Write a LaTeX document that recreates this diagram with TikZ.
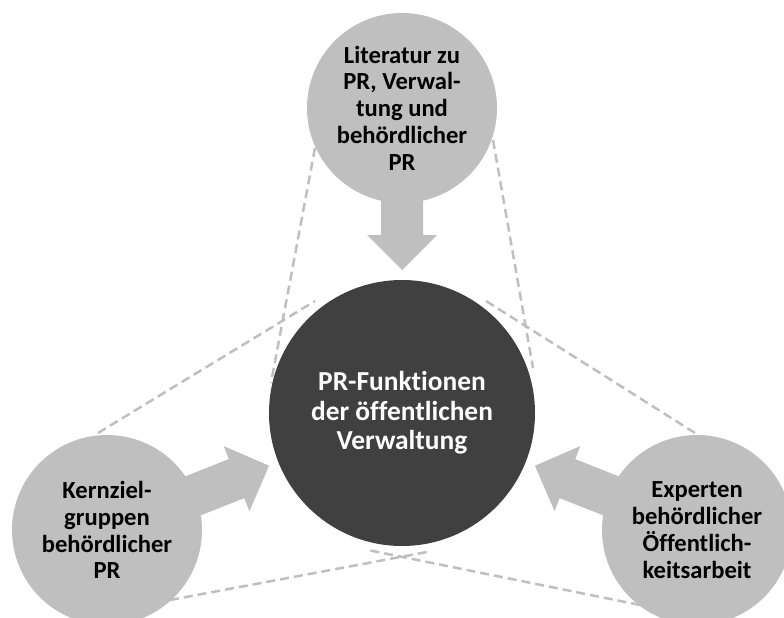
\documentclass[tikz,border=0pt]{standalone}
\usepackage{fontspec}
\setmainfont{Carlito}[Ligatures=NoCommon]
\usetikzlibrary{calc}
\definecolor{lightc}{HTML}{BFBFBF}
\definecolor{darkc}{HTML}{404040}
\tikzset{
  outer/.style={circle, fill=lightc, minimum size=190pt, inner sep=0pt, align=center,
    font=\bfseries\fontsize{24.6}{26.8}\selectfont, text=black},
  center/.style={circle, fill=darkc, minimum size=266pt, inner sep=0pt, align=center,
    font=\bfseries\fontsize{27.4}{29.5}\selectfont, text=white},
  guide/.style={draw=lightc, line width=2.5pt, dash pattern=on 9pt off 5pt},
  bigarrow/.style={fill=lightc, draw=none}
}
\newcommand{\fatarrow}[2]{%
  \coordinate (S) at ($(#1)!60pt!(#2)$);
  \coordinate (H) at ($(#2)!178pt!(#1)$);
  \coordinate (T) at ($(#2)!143pt!(#1)$);
  \fill[bigarrow] ($(S)!21pt!90:(#2)$) -- ($(H)!21pt!-90:(#1)$) -- ($(H)!35pt!-90:(#1)$) -- (T)
    -- ($(H)!35pt!90:(#1)$) -- ($(H)!21pt!90:(#1)$) -- ($(S)!21pt!-90:(#2)$) -- cycle;
}
\begin{document}
\begin{tikzpicture}[x=1pt, y=-1pt]
\useasboundingbox (0,0) rectangle (784,618);
\clip (0,0) rectangle (784,618);
% guide line end points
\coordinate (a1) at (315,148); \coordinate (a2) at (271,383);
\coordinate (b1) at (493,140); \coordinate (b2) at (533,368);
\coordinate (c1) at (98,433);  \coordinate (c2) at (315,301);
\coordinate (d1) at (695,433); \coordinate (d2) at (486,301);
\coordinate (e1) at (170,600); \coordinate (e2) at (427,552);
\coordinate (f1) at (640,605); \coordinate (f2) at (368,550);
\draw[guide] (a1) -- (a2);
\draw[guide] (b1) -- (b2);
\draw[guide] (c1) -- (c2);
\draw[guide] (d1) -- (d2);
\draw[guide] (e1) -- (e2);
\draw[guide] (f1) -- (f2);
% centres
\coordinate (ct) at (402,108);
\coordinate (cl) at (107,530);
\coordinate (cr) at (697,530);
\coordinate (cc) at (402,413);
\fatarrow{ct}{cc}
\fatarrow{cl}{cc}
\fatarrow{cr}{cc}
\node[outer] (top) at (ct) {Literatur zu\\PR, Verwal-\\tung und\\behördlicher\\PR};
\node[outer] (left) at (cl) {Kernziel-\\gruppen\\behördlicher\\PR};
\node[outer] (right) at (cr) {Experten\\behördlicher\\Öffentlich-\\keitsarbeit};
\node[center] (mid) at (cc) {PR-Funktionen\\der öffentlichen\\Verwaltung};
\end{tikzpicture}
\end{document}
